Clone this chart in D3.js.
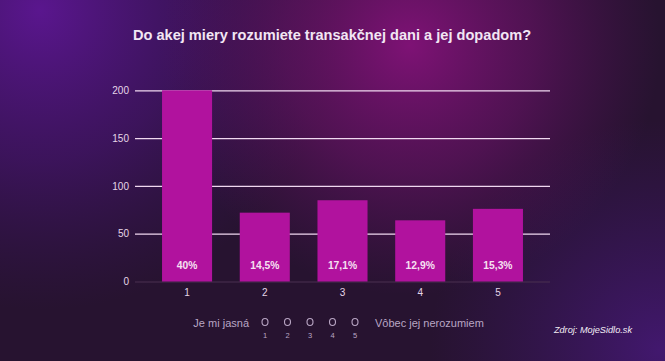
<!DOCTYPE html>
<html><head><meta charset="utf-8">
<script src="https://cdn.jsdelivr.net/npm/d3@7"></script>
<style>html,body{margin:0;padding:0;background:#2a1434;}svg{display:block;}</style>
</head><body>
<script>
const categories = ["1", "2", "3", "4", "5"];
const values = [200, 72, 85, 64, 76];
const percentLabels = ["40%", "14,5%", "17,1%", "12,9%", "15,3%"];
const yTicks = [0, 50, 100, 150, 200];
const title = "Do akej miery rozumiete transakčnej dani a jej dopadom?";
const scaleLeft = "Je mi jasná";
const scaleRight = "Vôbec jej nerozumiem";
const scalePoints = ["1", "2", "3", "4", "5"];
const source = "Zdroj: MojeSidlo.sk";

const W = 665, H = 361;
const svg = d3.select("body").append("svg").attr("width", W).attr("height", H);
const defs = svg.append("defs");

function radial(id, cx, cy, r, stops) {
  const g = defs.append("radialGradient").attr("id", id).attr("gradientUnits", "userSpaceOnUse")
    .attr("cx", cx).attr("cy", cy).attr("r", r);
  stops.forEach(s => g.append("stop").attr("offset", s[0]).attr("stop-color", s[1]).attr("stop-opacity", s[2]));
}
radial("gViolet", 40, 10, 300, [[0, "#5a168e", 1], [0.5, "#4a1478", 0.6], [1, "#3a1260", 0]]);
radial("gMagenta", 410, 45, 250, [[0, "#7e1275", 1], [0.5, "#6a1268", 0.6], [1, "#5a1060", 0]]);
radial("gRight", 660, 350, 230, [[0, "#42186e", 1], [1, "#3a1660", 0]]);

svg.append("rect").attr("width", W).attr("height", H).attr("fill", "#271330");
svg.append("rect").attr("width", W).attr("height", H).attr("fill", "url(#gViolet)");
svg.append("rect").attr("width", W).attr("height", H).attr("fill", "url(#gRight)");
svg.append("rect").attr("width", W).attr("height", H).attr("fill", "url(#gMagenta)");

const font = "'Liberation Sans', Arial, sans-serif";

svg.append("text").attr("x", 332).attr("y", 40).attr("text-anchor", "middle")
  .attr("font-family", font).attr("font-weight", "bold").attr("font-size", 14.6)
  .attr("fill", "#f2e6f4").text(title);

const x = d3.scaleBand().domain(categories).range([148.2, 536.8]).paddingInner(0.356).paddingOuter(0.178);
const y = d3.scaleLinear().domain([0, 200]).range([281.5, 90.3]);

const gridX0 = 135, gridX1 = 550;
const yAxis = d3.axisLeft(y).tickValues(yTicks).tickSize(-(gridX1 - gridX0)).tickPadding(6);
const ga = svg.append("g").attr("transform", `translate(${gridX0},0)`).call(yAxis);
ga.select(".domain").remove();
ga.selectAll(".tick line").attr("stroke", d => d === 0 ? "#4a3050" : "#f0d8f0").attr("stroke-width", 1.2);
ga.selectAll(".tick text").attr("font-family", font).attr("font-size", 10).attr("fill", "#e6d6e8");

svg.append("g").selectAll("rect").data(values).join("rect")
  .attr("x", (d, i) => x(categories[i])).attr("width", x.bandwidth())
  .attr("y", d => y(d)).attr("height", d => y(0) - y(d))
  .attr("fill", "#b1129e");

svg.append("g").selectAll("text").data(percentLabels).join("text")
  .attr("x", (d, i) => x(categories[i]) + x.bandwidth() / 2).attr("y", 268.5)
  .attr("text-anchor", "middle").attr("font-family", font).attr("font-weight", "bold")
  .attr("font-size", 10.3).attr("fill", "#f6e0f2").text(d => d);

const xAxis = d3.axisBottom(x).tickSize(0).tickPadding(7);
const gx = svg.append("g").attr("transform", `translate(0,${y(0)})`).call(xAxis);
gx.select(".domain").remove();
gx.selectAll(".tick text").attr("font-family", font).attr("font-size", 10).attr("fill", "#e6d6e8");

// bottom scale legend
const legColor = "#b9a6c4";
svg.append("text").attr("x", 249).attr("y", 327).attr("text-anchor", "end")
  .attr("font-family", font).attr("font-size", 11).attr("fill", legColor).text(scaleLeft);
svg.append("text").attr("x", 375).attr("y", 327).attr("text-anchor", "start")
  .attr("font-family", font).attr("font-size", 11).attr("fill", legColor).text(scaleRight);
const sx = d3.scalePoint().domain(scalePoints).range([265, 355]);
const lg = svg.append("g");
lg.selectAll("ellipse").data(scalePoints).join("ellipse")
  .attr("cx", d => sx(d)).attr("cy", 322).attr("rx", 3).attr("ry", 3.5)
  .attr("fill", "none").attr("stroke", legColor).attr("stroke-width", 1.1);
lg.selectAll("text").data(scalePoints).join("text")
  .attr("x", d => sx(d)).attr("y", 338).attr("text-anchor", "middle")
  .attr("font-family", font).attr("font-size", 7.5).attr("fill", legColor).text(d => d);

svg.append("text").attr("x", 632).attr("y", 333).attr("text-anchor", "end")
  .attr("font-family", font).attr("font-style", "italic").attr("font-size", 9.2)
  .attr("fill", "#f4eef6").text(source);
</script>
</body></html>
